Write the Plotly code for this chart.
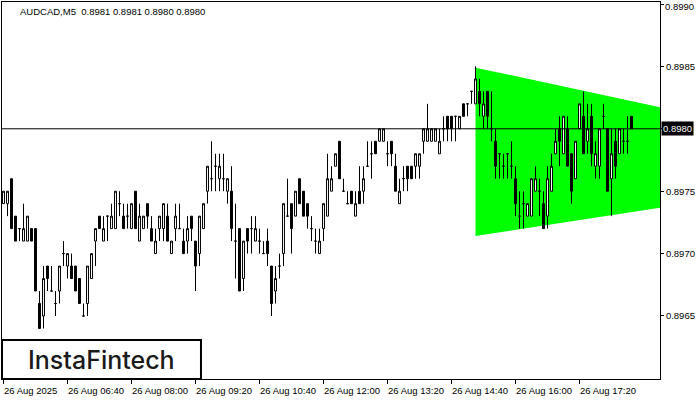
import plotly.graph_objects as go

# ---- data (AUDCAD M5, 26 Aug 2025, bar index 0 = 05:20) ----
opens = [
    0.8974, 0.8974, 0.8976, 0.8973, 0.8972, 0.8971, 0.8971, 0.8972, 0.8972, 0.8966,
    0.8965, 0.8969, 0.8967, 0.8966, 0.8967, 0.8970, 0.8969, 0.8969, 0.8969, 0.8968,
    0.8965, 0.8966, 0.8968, 0.8971, 0.8973, 0.8971, 0.8973, 0.8972, 0.8972, 0.8974,
    0.8973, 0.8973, 0.8972, 0.8975, 0.8971, 0.8972, 0.8974, 0.8972, 0.8970, 0.8972,
    0.8972, 0.8973, 0.8970, 0.8972, 0.8972, 0.8971, 0.8971, 0.8973, 0.8971, 0.8970,
    0.8972, 0.8975, 0.8976, 0.8977, 0.8976, 0.8976, 0.8975, 0.8975, 0.8971, 0.8972,
    0.8968, 0.8972, 0.8972, 0.8971, 0.8971, 0.8970, 0.8971, 0.8969, 0.8967, 0.8969,
    0.8970, 0.8973, 0.8974, 0.8973, 0.8976, 0.8975, 0.8974, 0.8972, 0.8971, 0.8970,
    0.8972, 0.8973, 0.8975, 0.8977, 0.8979, 0.8975, 0.8974, 0.8975, 0.8973, 0.8975,
    0.8975, 0.8977, 0.8978, 0.8979, 0.8979, 0.8979, 0.8978, 0.8979, 0.8977, 0.8974,
    0.8976, 0.8977, 0.8977, 0.8977, 0.8977, 0.8979, 0.8979, 0.8979, 0.8979, 0.8978,
    0.8980, 0.8981, 0.8981, 0.8981, 0.8980, 0.8982, 0.8982, 0.8983, 0.8982, 0.8983,
    0.8981, 0.8983, 0.8980, 0.8979, 0.8978, 0.8977, 0.8978, 0.8977, 0.8976, 0.8973,
    0.8974, 0.8973, 0.8973, 0.8975, 0.8975, 0.8974, 0.8973, 0.8975, 0.8978, 0.8980,
    0.8978, 0.8980, 0.8978, 0.8976, 0.8980, 0.8981, 0.8979, 0.8981, 0.8977, 0.8977,
    0.8981, 0.8980, 0.8976, 0.8979, 0.8978, 0.8979, 0.8979, 0.8981,
]
highs = [
    0.8975, 0.8975, 0.8976, 0.8973, 0.8972, 0.8974, 0.8973, 0.8972, 0.8972, 0.8967,
    0.8969, 0.8969, 0.8969, 0.8967, 0.8969, 0.8971, 0.8970, 0.8970, 0.8969, 0.8968,
    0.8966, 0.8969, 0.8970, 0.8972, 0.8973, 0.8973, 0.8973, 0.8974, 0.8975, 0.8975,
    0.8974, 0.8974, 0.8974, 0.8975, 0.8974, 0.8973, 0.8974, 0.8973, 0.8972, 0.8973,
    0.8974, 0.8974, 0.8971, 0.8974, 0.8974, 0.8972, 0.8973, 0.8973, 0.8971, 0.8973,
    0.8974, 0.8977, 0.8979, 0.8978, 0.8978, 0.8978, 0.8976, 0.8977, 0.8974, 0.8972,
    0.8971, 0.8972, 0.8973, 0.8973, 0.8972, 0.8971, 0.8972, 0.8969, 0.8969, 0.8970,
    0.8974, 0.8976, 0.8974, 0.8975, 0.8976, 0.8975, 0.8974, 0.8973, 0.8972, 0.8972,
    0.8974, 0.8978, 0.8977, 0.8978, 0.8979, 0.8976, 0.8975, 0.8975, 0.8975, 0.8977,
    0.8977, 0.8979, 0.8979, 0.8979, 0.8980, 0.8980, 0.8979, 0.8979, 0.8978, 0.8976,
    0.8977, 0.8977, 0.8977, 0.8978, 0.8978, 0.8980, 0.8982, 0.8980, 0.8980, 0.8980,
    0.8981, 0.8981, 0.8981, 0.8981, 0.8981, 0.8982, 0.8982, 0.8983, 0.8985, 0.8984,
    0.8983, 0.8983, 0.8983, 0.8980, 0.8978, 0.8978, 0.8978, 0.8979, 0.8977, 0.8975,
    0.8975, 0.8974, 0.8976, 0.8977, 0.8976, 0.8975, 0.8977, 0.8978, 0.8980, 0.8981,
    0.8981, 0.8981, 0.8978, 0.8979, 0.8982, 0.8983, 0.8982, 0.8982, 0.8979, 0.8980,
    0.8982, 0.8980, 0.8980, 0.8980, 0.8980, 0.8980, 0.8981, 0.8981,
]
lows = [
    0.8974, 0.8973, 0.8972, 0.8971, 0.8971, 0.8971, 0.8971, 0.8971, 0.8967, 0.8964,
    0.8964, 0.8967, 0.8967, 0.8965, 0.8966, 0.8969, 0.8968, 0.8968, 0.8967, 0.8966,
    0.8965, 0.8965, 0.8968, 0.8969, 0.8972, 0.8971, 0.8971, 0.8972, 0.8972, 0.8973,
    0.8972, 0.8972, 0.8972, 0.8972, 0.8971, 0.8972, 0.8972, 0.8971, 0.8970, 0.8971,
    0.8971, 0.8971, 0.8970, 0.8971, 0.8972, 0.8970, 0.8970, 0.8971, 0.8967, 0.8969,
    0.8972, 0.8974, 0.8975, 0.8975, 0.8975, 0.8975, 0.8974, 0.8971, 0.8968, 0.8967,
    0.8967, 0.8970, 0.8970, 0.8971, 0.8970, 0.8970, 0.8969, 0.8965, 0.8966, 0.8968,
    0.8969, 0.8973, 0.8970, 0.8973, 0.8974, 0.8973, 0.8972, 0.8971, 0.8970, 0.8970,
    0.8971, 0.8973, 0.8975, 0.8977, 0.8976, 0.8975, 0.8974, 0.8974, 0.8973, 0.8974,
    0.8974, 0.8977, 0.8976, 0.8978, 0.8979, 0.8979, 0.8977, 0.8977, 0.8975, 0.8974,
    0.8975, 0.8975, 0.8976, 0.8976, 0.8976, 0.8978, 0.8979, 0.8979, 0.8979, 0.8978,
    0.8979, 0.8979, 0.8979, 0.8979, 0.8980, 0.8981, 0.8981, 0.8982, 0.8982, 0.8981,
    0.8980, 0.8980, 0.8979, 0.8976, 0.8976, 0.8976, 0.8976, 0.8976, 0.8973, 0.8972,
    0.8972, 0.8973, 0.8973, 0.8975, 0.8973, 0.8972, 0.8972, 0.8975, 0.8978, 0.8977,
    0.8978, 0.8977, 0.8974, 0.8976, 0.8980, 0.8978, 0.8978, 0.8977, 0.8976, 0.8976,
    0.8980, 0.8975, 0.8973, 0.8976, 0.8978, 0.8978, 0.8978, 0.8980,
]
closes = [
    0.8975, 0.8975, 0.8972, 0.8971, 0.8972, 0.8972, 0.8973, 0.8971, 0.8967, 0.8964,
    0.8968, 0.8968, 0.8967, 0.8966, 0.8969, 0.8970, 0.8970, 0.8968, 0.8967, 0.8966,
    0.8965, 0.8969, 0.8970, 0.8972, 0.8972, 0.8972, 0.8973, 0.8973, 0.8975, 0.8974,
    0.8972, 0.8973, 0.8974, 0.8972, 0.8973, 0.8973, 0.8973, 0.8971, 0.8971, 0.8973,
    0.8974, 0.8971, 0.8971, 0.8973, 0.8972, 0.8970, 0.8972, 0.8972, 0.8969, 0.8973,
    0.8974, 0.8977, 0.8976, 0.8977, 0.8977, 0.8976, 0.8976, 0.8972, 0.8971, 0.8967,
    0.8971, 0.8971, 0.8972, 0.8972, 0.8971, 0.8970, 0.8970, 0.8966, 0.8968, 0.8969,
    0.8974, 0.8973, 0.8972, 0.8975, 0.8974, 0.8973, 0.8973, 0.8972, 0.8971, 0.8971,
    0.8974, 0.8976, 0.8976, 0.8978, 0.8976, 0.8975, 0.8974, 0.8974, 0.8974, 0.8974,
    0.8976, 0.8977, 0.8978, 0.8978, 0.8980, 0.8980, 0.8978, 0.8978, 0.8975, 0.8975,
    0.8976, 0.8976, 0.8976, 0.8978, 0.8978, 0.8980, 0.8980, 0.8980, 0.8980, 0.8979,
    0.8980, 0.8980, 0.8980, 0.8981, 0.8981, 0.8981, 0.8982, 0.8983, 0.8984, 0.8982,
    0.8982, 0.8981, 0.8980, 0.8977, 0.8978, 0.8977, 0.8978, 0.8977, 0.8974, 0.8973,
    0.8974, 0.8974, 0.8976, 0.8976, 0.8975, 0.8972, 0.8976, 0.8977, 0.8979, 0.8979,
    0.8981, 0.8977, 0.8975, 0.8979, 0.8982, 0.8978, 0.8980, 0.8978, 0.8978, 0.8980,
    0.8981, 0.8975, 0.8978, 0.8977, 0.8980, 0.8979, 0.8979, 0.8980,
]
bar_index = list(range(len(opens)))

tick_bars = [0, 16, 32, 48, 64, 80, 96, 112, 128, 144]
tick_labels = ["26 Aug 2025", "26 Aug 06:40", "26 Aug 08:00", "26 Aug 09:20",
               "26 Aug 10:40", "26 Aug 12:00", "26 Aug 13:20", "26 Aug 14:40",
               "26 Aug 16:00", "26 Aug 17:20"]
price_ticks = [0.8965, 0.8970, 0.8975, 0.8980, 0.8985, 0.8990]

# symmetric triangle pattern (upper / lower boundary)
pattern_x = [118, 164.5]
pattern_upper = [0.89849, 0.89817]
pattern_lower = [0.89714, 0.89737]

current_price = 0.8980
top_price = 0.8990
title_text = "AUDCAD,M5  0.8981 0.8981 0.8980 0.8980"

FONT = "Liberation Sans, Arial, sans-serif"

fig = go.Figure()

fig.add_trace(go.Candlestick(
    x=bar_index, open=opens, high=highs, low=lows, close=closes,
    increasing=dict(line=dict(color="black", width=1), fillcolor="white"),
    decreasing=dict(line=dict(color="black", width=1), fillcolor="black"),
    whiskerwidth=0, showlegend=False, hoverinfo="skip",
))

# triangle pattern drawn beneath the candles
tri_path = (f"M {pattern_x[0]},{pattern_upper[0]} L {pattern_x[1]},{pattern_upper[1]} "
            f"L {pattern_x[1]},{pattern_lower[1]} L {pattern_x[0]},{pattern_lower[0]} Z")
fig.add_shape(type="path", xref="x", yref="y", path=tri_path,
              fillcolor="#00FF00", line=dict(width=0), layer="below")

fig.add_shape(type="line", xref="paper", yref="y", x0=0, x1=1,
              y0=current_price, y1=current_price,
              line=dict(color="black", width=1), layer="above")

# logo box
fig.add_shape(type="rect", xref="paper", yref="paper",
              x0=0.0, x1=0.3024, y0=0.0, y1=0.1034,
              line=dict(color="black", width=2), fillcolor="white", layer="above")
fig.add_annotation(xref="paper", yref="paper", x=0.1505, y=0.051,
                   text="InstaFintech", showarrow=False,
                   font=dict(family="Inter, Lato, sans-serif", size=25, color="#1a1a1a", weight=500),
                   xanchor="center", yanchor="middle")

# title
fig.add_annotation(xref="paper", yref="paper", x=0.024, y=0.995, text=title_text,
                   showarrow=False, xanchor="left", yanchor="top",
                   font=dict(family=FONT, size=9.5, color="black"))

# time labels
for b, lab in zip(tick_bars, tick_labels):
    fig.add_annotation(xref="x", yref="paper", x=b, y=0, text=lab, showarrow=False,
                       xanchor="left", yanchor="top", xshift=-2, yshift=-4,
                       font=dict(family=FONT, size=9.5, color="black"))

# top price label kept inside the page
fig.add_annotation(xref="paper", yref="paper", x=1, y=1, text=f"{top_price:.4f}",
                   showarrow=False, xanchor="left", yanchor="top", xshift=4, yshift=2,
                   borderpad=0, font=dict(family=FONT, size=9.5, color="black"))

# current price tag (replaces the regular 0.8980 tick label)
fig.add_annotation(xref="paper", yref="y", x=1, y=current_price, text=f"{current_price:.4f}",
                   showarrow=False, xanchor="left", yanchor="middle", xshift=1,
                   bgcolor="black", borderpad=1,
                   font=dict(family=FONT, size=9.5, color="white"))

fig.update_layout(
    width=700, height=400,
    margin=dict(l=2, r=40, t=2, b=21, autoexpand=False),
    paper_bgcolor="white", plot_bgcolor="white",
    showlegend=False, boxgap=0.3,
    xaxis=dict(range=[-0.375, 164.125], rangeslider=dict(visible=False),
               automargin=False,
               showgrid=False, zeroline=False, showline=True, mirror=True,
               linecolor="black", linewidth=1,
               tickmode="array", tickvals=tick_bars, showticklabels=False,
               ticks="outside", ticklen=4, tickcolor="black"),
    yaxis=dict(range=[0.895995, 0.899016], side="right", automargin=False,
               showgrid=False, zeroline=False, showline=True, mirror=True,
               linecolor="black", linewidth=1,
               tickmode="array", tickvals=price_ticks,
               ticktext=["" if v in (current_price, top_price) else f"{v:.4f}" for v in price_ticks],
               ticks="outside", ticklen=3, tickcolor="black", ticklabeloverflow="allow",
               tickfont=dict(family=FONT, size=9.5, color="black")),
)

fig.write_html("out.html", config={"displayModeBar": False},
               post_script="document.body.style.margin='0';document.body.style.overflow='hidden';")
